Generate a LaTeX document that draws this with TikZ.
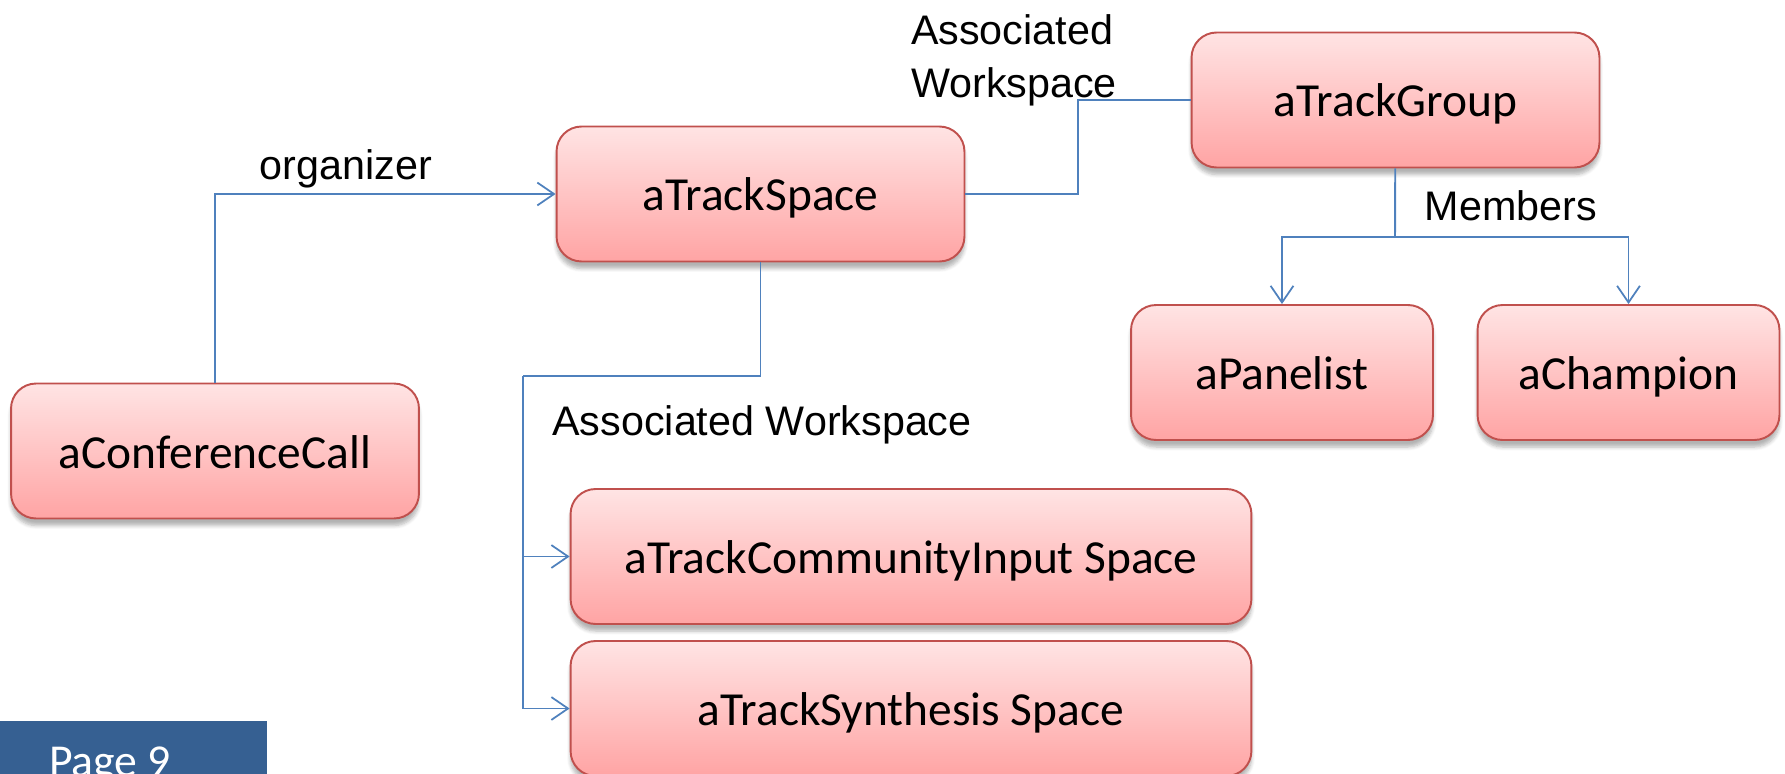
\documentclass[tikz,border=0pt]{standalone}
\usepackage{fontspec}
\setmainfont{Liberation Sans}
\newfontfamily\boxfont{Carlito}
\usetikzlibrary{arrows.meta,shadows.blur}
\definecolor{boxtop}{RGB}{255,228,228}
\definecolor{boxbot}{RGB}{255,164,164}
\definecolor{boxline}{RGB}{192,80,77}
\definecolor{linkblue}{RGB}{79,129,189}
\definecolor{tabblue}{RGB}{54,96,146}
\begin{document}
\begin{tikzpicture}[x=0.02cm,y=-0.02cm,
        obj/.style={draw=boxline,line width=1.1pt,rounded corners=0.5cm,
          top color=boxtop,bottom color=boxbot,minimum height=2.7cm,
          minimum width=8.16cm,inner sep=0pt,text height=0.68cm,text depth=0pt,
          font=\boxfont\fontsize{27}{30}\selectfont,
          blur shadow={shadow xshift=0pt,shadow yshift=-4pt,shadow opacity=30,shadow blur steps=6}},
        link/.style={draw=linkblue,line width=1.1pt},
        tip/.style={link,-{Straight Barb[length=9.5pt,width=13pt,line width=1pt]}},
        lbl/.style={font=\fontsize{23.5}{30}\selectfont,inner sep=0pt}]
        \clip (0,0) rectangle (1785,774);
        \node[obj] (conf) at (215,451) {aConferenceCall};
        \node[obj] (space) at (760.5,194) {aTrackSpace};
        \node[obj] (group) at (1395.5,100) {aTrackGroup};
        \node[obj,minimum width=6.04cm] (panelist) at (1282,372.5) {aPanelist};
        \node[obj,minimum width=6.04cm] (champion) at (1628.5,372.5) {aChampion};
        \node[obj,minimum width=13.62cm] (input) at (911,556.5) {aTrackCommunityInput Space};
        \node[obj,minimum width=13.62cm] (synth) at (911,708.5) {aTrackSynthesis Space};
        \coordinate (jtop) at (1078,147);
        \coordinate (jlow) at (523,376);
        \coordinate (jmem) at (1395,237);
        \draw[tip] (conf) |- (space);
        \draw[link] (space) -| (jtop) |- (group);
        \draw[link] (space) |- (jlow);
        \draw[tip] (jlow) |- (input);
        \draw[tip] (jlow) |- (synth);
        \draw[link] (group) -- (jmem);
        \draw[tip] (jmem) -| (panelist);
        \draw[tip] (jmem) -| (champion);
        \node[lbl] (orglbl) at (346,169) {organizer};
        \node[lbl,align=left] (toplbl) at (1014,60) {Associated\\Workspace};
        \node[lbl] (lowlbl) at (762,425) {Associated Workspace};
        \node[lbl] (memlbl) at (1511,206) {Members};
        \fill[tabblue] (0,721) rectangle (267,800);
        \node[white,anchor=base,font=\boxfont\fontsize{26}{30}\selectfont] (page) at (110,776) {Page 9};
      \end{tikzpicture}
\end{document}
